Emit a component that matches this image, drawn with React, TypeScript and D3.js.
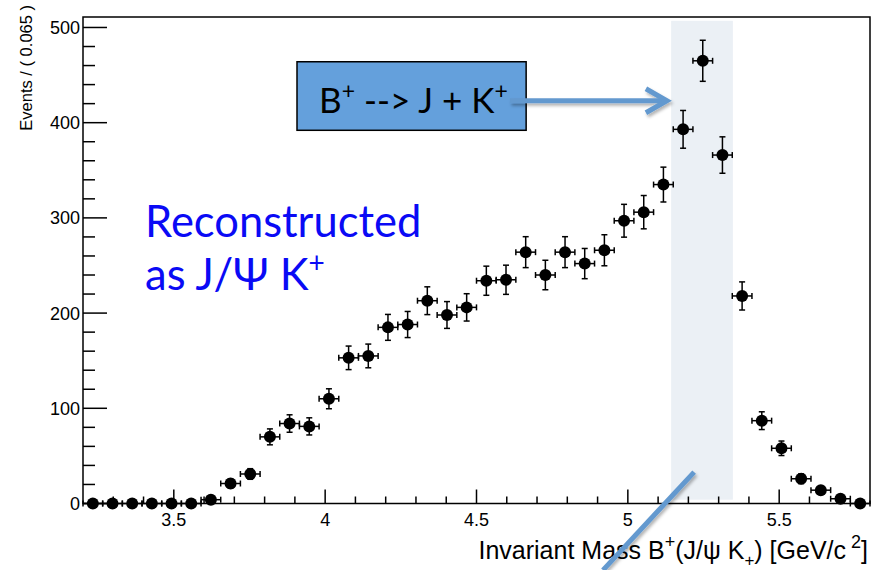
import React from "react";
import * as d3 from "d3";

// ---- data ----
const binLow = 3.2;
const binWidth = 0.065;
const counts = [
  0, 0, 0, 0, 0, 0, 4, 21, 31, 70,
  84, 81, 110, 153, 155, 185, 188, 213, 198, 206,
  234, 235, 264, 240, 264, 252, 266, 297, 306, 335,
  393, 465, 366, 218, 87, 58, 26, 14, 5, 0,
];
const xMajorTicks = [3.5, 4, 4.5, 5, 5.5];
const xTickLabels = ["3.5", "4", "4.5", "5", "5.5"];
const yMajorTicks = [0, 100, 200, 300, 400, 500];
const yTickLabels = ["0", "100", "200", "300", "400", "500"];
const xMinorTicks = [3.3, 3.4, 3.6, 3.7, 3.8, 3.9, 4.1, 4.2, 4.3, 4.4, 4.6, 4.7, 4.8, 4.9, 5.1, 5.2, 5.3, 5.4, 5.6, 5.7];
const yMinorTicks = [20, 40, 60, 80, 120, 140, 160, 180, 220, 240, 260, 280, 320, 340, 360, 380, 420, 440, 460, 480];

// annotation anchors (data units)
const signalBand = { x0: 5.143, x1: 5.347, y0: 4, y1: 507 };
const decayBox = { x0: 3.907, x1: 4.664, y0: 392, y1: 464 };
const boxArrow = { x0: 4.611, x1: 5.129, y: 423 };
const pointerLine = { x0: 4.918, y0: -70, x1: 5.219, y1: 33 };
const recoText = { x: 3.405, y1: 280, y2: 224 };

const W = 884;
const H = 570;
const FRAME = { left: 83, right: 870, top: 17, bottom: 503.5 };

export default function App() {
  const x = d3.scaleLinear().domain([3.2, 5.8]).range([FRAME.left, FRAME.right]);
  const y = d3.scaleLinear().domain([0, 511]).range([FRAME.bottom, FRAME.top]);

  const pts = counts.map((c, i) => {
    const center = binLow + binWidth * (i + 0.5);
    const err = Math.sqrt(c);
    return { c, center, lo: center - binWidth / 2, hi: center + binWidth / 2, err };
  });

  const rootFont = "'Liberation Sans', Arial, Helvetica, sans-serif";
  const pptFont = "Lato, 'Open Sans', sans-serif";
  const arrowColor = "#6399cf";

  const bx0 = x(decayBox.x0), bx1 = x(decayBox.x1);
  const by0 = y(decayBox.y1), by1 = y(decayBox.y0);

  const ax0 = x(boxArrow.x0), ax1 = x(boxArrow.x1), ay = y(boxArrow.y);

  return (
    <svg width={W} height={H} style={{ position: "absolute", left: 0, top: 0, background: "#fff" }}>
      <defs>
        <filter id="shadow" x="-10%" y="-50%" width="130%" height="250%">
          <feDropShadow dx="1.5" dy="2.5" stdDeviation="1.5" floodColor="#000" floodOpacity="0.3" />
        </filter>
      </defs>
      <rect x={0} y={0} width={W} height={H} fill="#fff" />

      {/* signal band */}
      <rect
        x={x(signalBand.x0)}
        y={y(signalBand.y1)}
        width={x(signalBand.x1) - x(signalBand.x0)}
        height={y(signalBand.y0) - y(signalBand.y1)}
        fill="#ebf0f5"
      />

      {/* frame */}
      <rect
        x={FRAME.left}
        y={FRAME.top}
        width={FRAME.right - FRAME.left}
        height={FRAME.bottom - FRAME.top}
        fill="none"
        stroke="#000"
        strokeWidth={1.5}
      />

      {/* y ticks */}
      {yMajorTicks.map((t) => (
        <line key={"ym" + t} x1={FRAME.left} x2={FRAME.left + 24} y1={y(t)} y2={y(t)} stroke="#000" strokeWidth={1.5} />
      ))}
      {yMinorTicks.map((t) => (
        <line key={"yn" + t} x1={FRAME.left} x2={FRAME.left + 12} y1={y(t)} y2={y(t)} stroke="#000" strokeWidth={1.5} />
      ))}
      {yMajorTicks.map((t, i) => (
        <text key={"yl" + t} x={80} y={y(t)} dy="0.36em" textAnchor="end" fontFamily={rootFont} fontSize={18} fill="#000">
          {yTickLabels[i]}
        </text>
      ))}

      {/* x ticks */}
      {xMajorTicks.map((t) => (
        <line key={"xm" + t} x1={x(t)} x2={x(t)} y1={FRAME.bottom} y2={FRAME.bottom - 14} stroke="#000" strokeWidth={1.5} />
      ))}
      {xMinorTicks.map((t) => (
        <line key={"xn" + t} x1={x(t)} x2={x(t)} y1={FRAME.bottom} y2={FRAME.bottom - 7} stroke="#000" strokeWidth={1.5} />
      ))}
      {xMajorTicks.map((t, i) => (
        <text key={"xl" + t} x={x(t)} y={526} textAnchor="middle" fontFamily={rootFont} fontSize={18} fill="#000">
          {xTickLabels[i]}
        </text>
      ))}

      {/* axis titles */}
      <text
        transform={`translate(32,5) rotate(-90)`}
        textAnchor="end"
        fontFamily={rootFont}
        fontSize={16.5}
        fill="#000"
      >
        Events / ( 0.065 )
      </text>
      <text x={868} y={559} textAnchor="end" fontFamily={rootFont} fontSize={25} fill="#000">
        Invariant Mass B
        <tspan dy={-11} fontSize={18}>+</tspan>
        <tspan dy={11}>(J/ψ K</tspan>
        <tspan dy={7} fontSize={17}>+</tspan>
        <tspan dy={-7}>) [GeV/c</tspan>
        <tspan dy={-11} fontSize={18}> 2</tspan>
        <tspan dy={11}>]</tspan>
      </text>

      {/* data points */}
      <g stroke="#000" strokeWidth={1.5}>
        {pts.map((p, i) => (
          <g key={"p" + i}>
            <line x1={x(p.lo)} x2={x(p.hi)} y1={y(p.c)} y2={y(p.c)} />
            <line x1={x(p.lo)} x2={x(p.lo)} y1={y(p.c) - 3} y2={y(p.c) + 3} />
            <line x1={x(p.hi)} x2={x(p.hi)} y1={y(p.c) - 3} y2={y(p.c) + 3} />
            {p.err > 0 && (
              <>
                <line x1={x(p.center)} x2={x(p.center)} y1={y(p.c + p.err)} y2={y(p.c - p.err)} />
                <line x1={x(p.center) - 3} x2={x(p.center) + 3} y1={y(p.c + p.err)} y2={y(p.c + p.err)} />
                <line x1={x(p.center) - 3} x2={x(p.center) + 3} y1={y(p.c - p.err)} y2={y(p.c - p.err)} />
              </>
            )}
          </g>
        ))}
      </g>
      <g fill="#000">
        {pts.map((p, i) => (
          <circle key={"c" + i} cx={x(p.center)} cy={y(p.c)} r={6} />
        ))}
      </g>

      {/* reconstructed text */}
      <text x={x(recoText.x)} y={y(recoText.y1)} fontFamily={pptFont} fontSize={43.5} fill="#0a0af5">
        Reconstructed
      </text>
      <text x={x(recoText.x)} y={y(recoText.y2)} fontFamily={pptFont} fontSize={43.5} fill="#0a0af5">
        as J/Ψ K<tspan dy={-17} fontSize={28}>+</tspan>
      </text>

      {/* decay box */}
      <rect x={bx0} y={by0} width={bx1 - bx0} height={by1 - by0} fill="#64a0dc" stroke="#000" strokeWidth={1.5} />
      <text x={319} y={113} fontFamily={pptFont} fontSize={35} fill="#000">
        B<tspan dy={-14} fontSize={23}>+</tspan>
        <tspan dy={14}> --&gt; J + K</tspan>
        <tspan dy={-14} fontSize={23}>+</tspan>
      </text>

      {/* arrow from box */}
      <g filter="url(#shadow)" stroke={arrowColor} strokeWidth={5} fill="none" strokeLinecap="butt">
        <line x1={ax0} x2={ax1 - 2} y1={ay} y2={ay} />
        <polyline points={`${ax1 - 21},${ay - 12} ${ax1},${ay} ${ax1 - 21},${ay + 12}`} strokeLinejoin="miter" />
      </g>

      {/* pointer line */}
      <line
        x1={x(pointerLine.x0)}
        y1={y(pointerLine.y0)}
        x2={x(pointerLine.x1)}
        y2={y(pointerLine.y1)}
        stroke={arrowColor}
        strokeWidth={5}
        filter="url(#shadow)"
      />
    </svg>
  );
}
